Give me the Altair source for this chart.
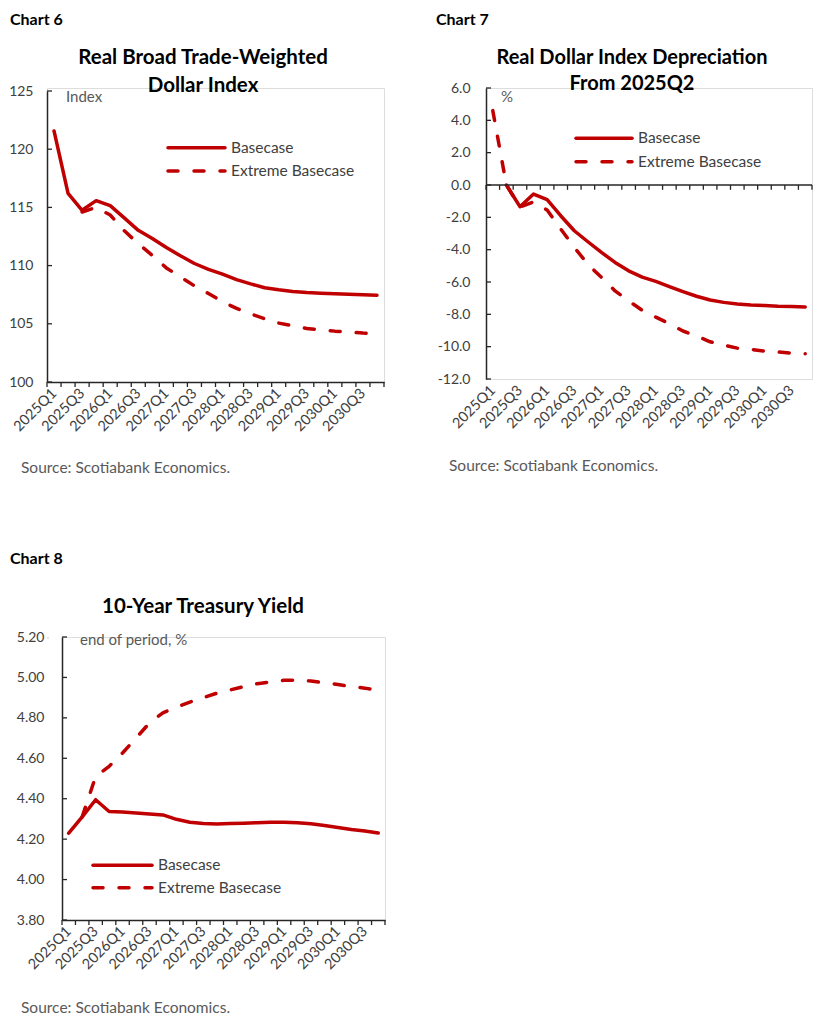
import altair as alt
import pandas as pd

# ---------------- data ----------------
quarters = ['2025Q1', '2025Q2', '2025Q3', '2025Q4',
            '2026Q1', '2026Q2', '2026Q3', '2026Q4',
            '2027Q1', '2027Q2', '2027Q3', '2027Q4',
            '2028Q1', '2028Q2', '2028Q3', '2028Q4',
            '2029Q1', '2029Q2', '2029Q3', '2029Q4',
            '2030Q1', '2030Q2', '2030Q3', '2030Q4']
series = ['Basecase', 'Extreme Basecase']

c6_label = 'Chart 6'
c6_title = ['Real Broad Trade-Weighted', 'Dollar Index']
c6_unit = 'Index'
c6_base = [121.57, 116.2, 114.75, 115.58, 115.15, 114.1, 113.03, 112.33, 111.55, 110.84, 110.18, 109.68,
           109.26, 108.8, 108.43, 108.1, 107.92, 107.78, 107.69, 107.63, 107.58, 107.53, 107.49, 107.46]
c6_ext = [None, None, 114.6, 115.0, 114.35, 113.0, 111.88, 110.88, 109.8, 109.03, 108.26, 107.6,
          106.9, 106.32, 105.86, 105.43, 105.06, 104.83, 104.6, 104.49, 104.37, 104.29, 104.2, 104.15]
c6_yticks = [100, 105, 110, 115, 120, 125]

c7_label = 'Chart 7'
c7_title = ['Real Dollar Index Depreciation', 'From 2025Q2']
c7_unit = '%'
c7_base = [None, 0.0, -1.34, -0.56, -0.91, -1.9, -2.83, -3.51, -4.17, -4.79, -5.31, -5.7,
           -5.96, -6.28, -6.6, -6.88, -7.11, -7.26, -7.36, -7.42, -7.46, -7.5, -7.52, -7.54]
c7_ext = [4.6, 0.0, -1.36, -1.05, -1.55, -2.72, -3.86, -4.9, -5.72, -6.55, -7.17, -7.75,
          -8.17, -8.58, -9.03, -9.34, -9.7, -9.9, -10.09, -10.17, -10.27, -10.33, -10.4, -10.44]
c7_yticks = [-12, -10, -8, -6, -4, -2, 0, 2, 4, 6]

c8_label = 'Chart 8'
c8_title = ['10-Year Treasury Yield']
c8_unit = 'end of period, %'
c8_base = [4.23, 4.31, 4.395, 4.337, 4.334, 4.329, 4.324, 4.32, 4.298, 4.284, 4.277, 4.275,
           4.277, 4.279, 4.281, 4.283, 4.283, 4.281, 4.276, 4.268, 4.258, 4.248, 4.24, 4.23]
c8_ext = [None, 4.31, 4.51, 4.56, 4.626, 4.70, 4.775, 4.825, 4.853, 4.878, 4.90, 4.922,
          4.938, 4.955, 4.969, 4.978, 4.986, 4.987, 4.982, 4.973, 4.965, 4.955, 4.947, 4.936]
c8_yticks = [3.8, 4.0, 4.2, 4.4, 4.6, 4.8, 5.0, 5.2]

source = 'Source: Scotiabank Economics.'

# ---------------- style ----------------
RED = '#C00000'
FONT = 'Lato'
AXC = '#262626'
LBL = '#404040'
GRY = '#595959'
LW = 3.5
DASH = [10, 16]

x_label_expr = '[' + ','.join("'%s'" % q for q in quarters) + '][datum.value]'
boundaries = [i - 0.5 for i in range(len(quarters) + 1)]
one = pd.DataFrame({'k': [0]})


def panel(label, title, unit, base, ext, ydom, yticks, ylab, geo, zero_axis=False):
    W, H = geo['w'], geo['h']
    top = geo.get('top', 0)
    rows = []
    for name, vals in zip(series, [base, ext]):
        for i, v in enumerate(vals):
            if v is not None:
                rows.append({'idx': i, 'quarter': quarters[i], 'series': name, 'value': v})
    df = pd.DataFrame(rows)

    xs = alt.Scale(domain=[-0.5, len(quarters) - 0.5], nice=False, zero=False)
    ys = alt.Scale(domain=ydom, nice=False, zero=False, range=[H, top])
    xaxis = alt.Axis(values=list(range(0, len(quarters), 2)), labelExpr=x_label_expr,
                     labelAngle=-45, labelAlign='right', labelBaseline='middle',
                     labelPadding=geo['xpad'], ticks=False, tickSize=0, grid=False,
                     domain=not zero_axis, domainColor=AXC, domainWidth=1.5, title=None,
                     labelFont=FONT, labelFontSize=14.5, labelColor=LBL, labelOverlap=False)
    yargs = dict(values=yticks, ticks=False, tickSize=0, grid=False, domain=True,
                 domainColor=AXC, domainWidth=1.5, title=None, labelFont=FONT,
                 labelFontSize=14, labelColor=LBL, labelOverlap=False, labelPadding=geo['ypad'])
    yargs.update(ylab)
    yaxis = alt.Axis(**yargs)

    X = alt.X('idx:Q', scale=xs, axis=xaxis)
    Y = alt.Y('value:Q', scale=ys, axis=yaxis)

    base_line = alt.Chart(df).transform_filter(alt.datum.series == series[0]).mark_line(
        color=RED, strokeWidth=LW, strokeCap='round', strokeJoin='round').encode(x=X, y=Y)
    ext_line = alt.Chart(df).transform_filter(alt.datum.series == series[1]).mark_line(
        color=RED, strokeWidth=LW, strokeCap='round', strokeJoin='round',
        strokeDash=DASH).encode(x=X, y=Y)

    layers = [ext_line, base_line]

    # y ticks (inside)
    ytdf = pd.DataFrame({'value': yticks})
    layers.append(alt.Chart(ytdf).mark_rule(color=AXC, strokeWidth=1.3).encode(
        y=Y, x=alt.value(0), x2=alt.value(5)))

    # x ticks (between categories)
    if zero_axis:
        zdf = pd.DataFrame({'value': [0]})
        layers.append(alt.Chart(zdf).mark_rule(color=AXC, strokeWidth=1.5).encode(y=Y))
        tdf = pd.DataFrame({'idx': boundaries, 'value': [0] * len(boundaries),
                            'v2': [-0.3] * len(boundaries)})
        layers.append(alt.Chart(tdf).mark_rule(color=AXC, strokeWidth=1.3).encode(
            x=X, y=Y, y2='v2:Q'))
    else:
        tdf = pd.DataFrame({'idx': boundaries})
        layers.append(alt.Chart(tdf).mark_rule(color=AXC, strokeWidth=1.3).encode(
            x=X, y=alt.value(H), y2=alt.value(H + 5)))

    def txt(s, x, y, size, color='#000000', weight='normal', align='left', baseline='alphabetic'):
        return alt.Chart(one).mark_text(text=s, font=FONT, fontSize=size, color=color,
                                        fontWeight=weight, align=align,
                                        baseline=baseline).encode(x=alt.value(x), y=alt.value(y + top))

    layers.append(txt(label, geo['lab'][0], geo['lab'][1], 16, weight='bold'))
    for k, line in enumerate(title):
        layers.append(txt(line, geo['tx'], geo['ty'][k], geo['tfs'], weight='bold', align='center'))
    layers.append(txt(unit, geo['unit'][0], geo['unit'][1], 15, color=GRY))
    layers.append(txt(source, geo['src'][0], geo['src'][1], 15.5, color=GRY))

    # legend
    lx0, lx1, ly = geo['leg']
    for k, name in enumerate(series):
        yy = ly[k] + top
        props = dict(color=RED, strokeWidth=LW, strokeCap='round')
        if k == 1:
            props['strokeDash'] = DASH
        layers.append(alt.Chart(one).mark_rule(**props).encode(
            x=alt.value(lx0), x2=alt.value(lx1), y=alt.value(yy)))
        layers.append(txt(name, lx1 + 6, ly[k], 15.5, color=LBL, baseline='middle'))

    return alt.layer(*layers).properties(width=W, height=H)


# positions relative to the top-left of each plot area (chart 6 plot starts 3px below its view)
geo6 = dict(w=337, h=294, top=3, xpad=9, ypad=14, lab=(-37, -66), tx=156, ty=[-27, 1], tfs=20.5,
            unit=(19, 11), src=(-26, 382), leg=(121, 178, [56.7, 80]))
geo7 = dict(w=326, h=291, xpad=9, ypad=16, lab=(-50, -63), tx=146, ty=[-24, 2], tfs=20,
            unit=(15, 14), src=(-37, 383), leg=(90, 146, [50.3, 73.7]))
geo8 = dict(w=323, h=283, xpad=9, ypad=18, lab=(-52, -73), tx=141, ty=[-24], tfs=20.5,
            unit=(18, 7.5), src=(-41, 376), leg=(31, 90, [228.3, 250.7]))

c6 = panel(c6_label, c6_title, c6_unit, c6_base, c6_ext, [100, 125], c6_yticks,
           dict(format='d'), geo6)
c7 = panel(c7_label, c7_title, c7_unit, c7_base, c7_ext, [-12, 6], c7_yticks,
           dict(labelExpr="(datum.value < 0 ? '-' : '') + format(abs(datum.value), '.1f')"),
           geo7, zero_axis=True)
c8 = panel(c8_label, c8_title, c8_unit, c8_base, c8_ext, [3.8, 5.2], c8_yticks,
           dict(format='.2f'), geo8)

spacer = alt.Chart(one).mark_point(opacity=0).encode(
    x=alt.value(0), y=alt.value(0)).properties(width=1, height=1)

top_row = alt.hconcat(c6, c7, spacing=102, bounds='flush')
bottom_row = alt.hconcat(spacer, c8, spacing=14, bounds='flush')
chart = alt.vconcat(top_row, bottom_row, spacing=549, bounds='flush').properties(
    padding={'left': 0, 'top': 3, 'right': 5, 'bottom': 5}
).configure_view(strokeWidth=0).configure(background='white')

chart.save('out.html', embed_options={'renderer': 'svg', 'actions': False})
